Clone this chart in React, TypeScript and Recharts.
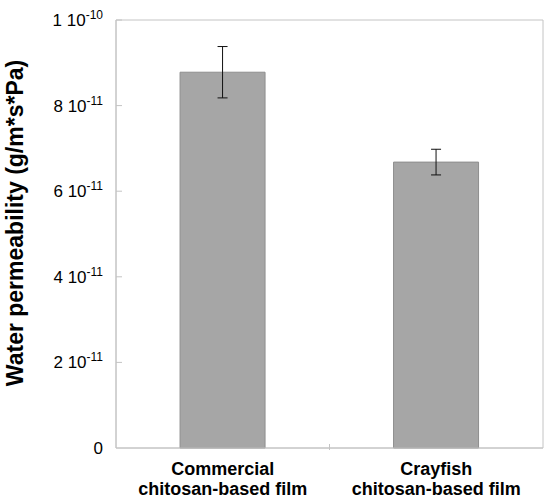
import React from 'react'
import {
  BarChart, Bar, XAxis, YAxis, ErrorBar, ReferenceArea,
} from 'recharts'

const films = ['Commercial|chitosan-based film', 'Crayfish|chitosan-based film']
const permeability = [8.78e-11, 6.68e-11]
const permeabilityErr = [0.6e-11, 0.3e-11]

const yTicks = [0, 2e-11, 4e-11, 6e-11, 8e-11, 1e-10]
const yTickMantissa = ['0', '2', '4', '6', '8', '1']
const yTickExponent = ['', '-11', '-11', '-11', '-11', '-10']

const data = films.map((film, i) => ({
  film,
  value: permeability[i],
  err: permeabilityErr[i],
}))

const FONT = '"Liberation Sans", Arial, sans-serif'
const AXIS = '#c4c4c4'

function YTick({ x, y, payload, index }: any) {
  const i = yTicks.indexOf(payload.value)
  const idx = i >= 0 ? i : index
  const exp = yTickExponent[idx]
  const axisX = x + 13
  return (
    <g>
      {idx > 0 && <line x1={axisX} x2={axisX + 6} y1={y} y2={y} stroke={AXIS} />}
      <text x={x} y={y} dy={6} textAnchor="end" fontFamily={FONT} fontSize={17} fill="#000">
        {exp ? (
          <>
            <tspan>{yTickMantissa[idx]} 10</tspan>
            <tspan fontSize={12} dy={-7}>{exp}</tspan>
          </>
        ) : (
          <tspan>{yTickMantissa[idx]}</tspan>
        )}
      </text>
    </g>
  )
}

function XTick({ x, y, payload, index }: any) {
  const lines = String(payload.value).split('|')
  const half = payload.offset || 0
  return (
    <g>
      {index < films.length - 1 && half > 0 && (
        <line x1={x + half} x2={x + half} y1={y - 12} y2={y - 6} stroke={AXIS} />
      )}
      <text x={x} y={y} textAnchor="middle" fontFamily={FONT} fontSize={18} fontWeight="bold" fill="#000">
        {lines.map((l, k) => (
          <tspan key={k} x={x} dy={k === 0 ? 19 : 20}>{l}</tspan>
        ))}
      </text>
    </g>
  )
}

function YLabel({ viewBox }: any) {
  const cx = 23
  const cy = viewBox.y + viewBox.height / 2 - 11
  return (
    <text
      x={cx}
      y={cy}
      transform={`rotate(-90 ${cx} ${cy})`}
      textAnchor="middle"
      fontFamily={FONT}
      fontSize={23}
      fontWeight="bold"
      fill="#000"
    >
      Water permeability (g/m*s*Pa)
    </text>
  )
}

export default function App() {
  return (
    <div style={{ position: 'absolute', left: 0, top: 0, background: '#fff' }}>
      <BarChart
        width={550}
        height={503}
        data={data}
        margin={{ top: 20, right: 7, bottom: 0, left: 0 }}
        barCategoryGap="30%"
      >
        <ReferenceArea y1={0} y2={1e-10} fill="none" stroke={AXIS} strokeWidth={1} ifOverflow="visible" />
        <XAxis
          dataKey="film"
          tick={<XTick />}
          tickLine={false}
          axisLine={{ stroke: AXIS }}
          interval={0}
          height={55}
        />
        <YAxis
          type="number"
          domain={[0, 1e-10]}
          ticks={yTicks}
          tick={<YTick />}
          tickLine={false}
          tickSize={6}
          tickMargin={7}
          axisLine={{ stroke: AXIS }}
          width={116}
          label={<YLabel />}
          interval={0}
        />
        <Bar dataKey="value" fill="#a6a6a6" stroke="#8e8e8e" strokeWidth={1} isAnimationActive={false}>
          <ErrorBar dataKey="err" width={5} stroke="#111" strokeWidth={1} isAnimationActive={false} />
        </Bar>
      </BarChart>
    </div>
  )
}
